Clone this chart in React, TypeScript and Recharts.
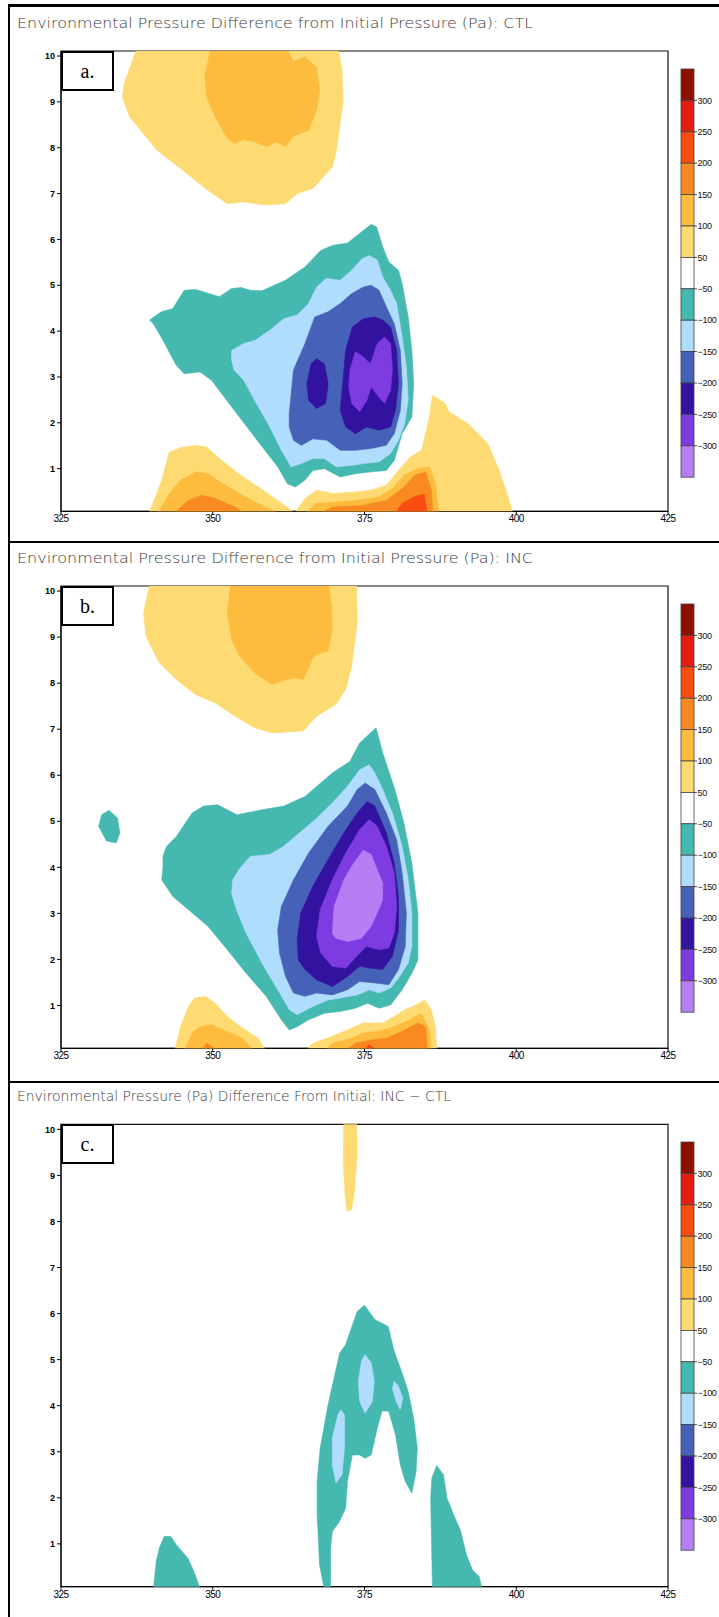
import React from "react";
import { ScatterChart, Scatter, XAxis, YAxis, ReferenceArea } from "recharts";

// colour bar, top box first, and the labels that sit on the box edges
const BAR_COLORS = ["#8e0f00", "#e41e0e", "#f94c10", "#f98a22", "#fdbc3e", "#fddb72", "#ffffff", "#45b8b0", "#b0dcfd", "#4662b8", "#32129f", "#7e3be2", "#b57ef4"];
const BAR_LABELS = ["300", "250", "200", "150", "100", "50", "\u221250", "\u2212100", "\u2212150", "\u2212200", "\u2212250", "\u2212300"];

const X_TICKS = [325, 350, 375, 400, 425];
const Y_TICKS = [1, 2, 3, 4, 5, 6, 7, 8, 9, 10];
const X_DOMAIN = [325, 425];
const Y_DOMAIN = [0.07, 10.11];

const TITLES = [
  "Environmental Pressure Difference from Initial Pressure (Pa): CTL",
  "Environmental Pressure Difference from Initial Pressure (Pa): INC",
  "Environmental Pressure (Pa) Difference From Initial: INC \u2212 CTL",
];
const PANEL_TAGS = ["a.", "b.", "c."];

type Pt = [number, number];

// ---- panel a (CTL) contour outlines, [x, y] ----
const A_YELLOW_TOP: Pt[] = [[337.6, 10.2], [335.4, 9.4], [335.1, 9.11], [336.3, 8.67], [340.8, 7.95], [344.0, 7.62], [349.2, 7.07], [352.4, 6.78], [354.9, 6.82], [358.8, 6.75], [362.0, 6.78], [363.9, 7.0], [366.5, 7.11], [369.7, 7.58], [370.4, 7.95], [371.5, 9.04], [371.3, 9.69], [370.6, 10.2]];
const A_ORANGE_TOP: Pt[] = [[349.7, 10.2], [348.7, 9.55], [349.0, 9.11], [350.4, 8.67], [352.4, 8.2], [353.7, 8.09], [354.9, 8.18], [356.9, 8.13], [358.8, 8.02], [360.4, 8.13], [362.0, 8.03], [363.3, 8.25], [365.8, 8.38], [367.1, 8.82], [367.6, 9.25], [367.1, 9.76], [365.2, 9.98], [363.3, 9.89], [362.0, 10.2]];
const A_TEAL: Pt[] = [[339.6, 4.24], [341.5, 4.42], [343.4, 4.49], [345.3, 4.89], [347.2, 4.91], [351.1, 4.75], [353.1, 4.93], [354.7, 4.95], [356.2, 4.89], [358.1, 4.88], [362.0, 5.11], [365.2, 5.4], [367.8, 5.76], [369.7, 5.87], [372.2, 5.92], [376.1, 6.33], [377.0, 6.27], [378.0, 5.84], [379.0, 5.51], [380.6, 5.33], [381.2, 5.04], [382.2, 4.31], [382.8, 3.58], [383.1, 2.85], [382.8, 2.13], [381.2, 1.76], [379.9, 1.18], [378.6, 0.96], [376.1, 0.93], [373.5, 0.89], [371.0, 0.82], [368.4, 1.0], [366.5, 0.96], [365.2, 0.75], [363.6, 0.6], [362.3, 0.67], [360.7, 1.04], [356.9, 1.69], [353.1, 2.35], [349.8, 2.93], [347.9, 3.11], [345.3, 3.07], [344.0, 3.25], [341.8, 3.8], [340.2, 4.16]];
const A_LIGHTBLUE: Pt[] = [[353.1, 3.58], [355.1, 3.73], [357.0, 3.8], [359.4, 4.02], [361.7, 4.27], [363.9, 4.35], [365.8, 4.6], [367.1, 4.96], [368.7, 5.15], [371.0, 5.11], [372.9, 5.33], [374.6, 5.58], [375.8, 5.65], [377.1, 5.55], [378.0, 5.18], [379.3, 4.89], [380.3, 4.6], [381.2, 3.87], [381.9, 3.22], [382.2, 2.49], [381.6, 1.98], [380.6, 1.62], [379.3, 1.33], [377.4, 1.15], [374.8, 1.11], [372.9, 1.07], [370.3, 1.04], [368.4, 1.22], [366.5, 1.22], [364.6, 1.11], [362.9, 1.04], [361.3, 1.4], [359.4, 1.91], [356.9, 2.49], [355.1, 2.93], [353.5, 3.15], [353.1, 3.36]];
const A_BLUE: Pt[] = [[362.6, 2.2], [363.3, 3.15], [365.2, 3.73], [366.8, 4.31], [369.0, 4.42], [371.0, 4.6], [372.9, 4.82], [374.8, 4.96], [376.1, 5.0], [377.4, 4.89], [378.6, 4.53], [379.9, 4.16], [380.9, 3.58], [381.2, 2.85], [380.9, 2.27], [379.9, 1.76], [378.6, 1.51], [376.1, 1.44], [373.5, 1.4], [371.0, 1.4], [368.8, 1.62], [366.5, 1.65], [364.6, 1.51], [363.3, 1.62], [362.6, 1.91]];
const A_INDIGO_LEFT: Pt[] = [[367.1, 3.4], [368.4, 3.29], [369.0, 2.85], [368.6, 2.42], [367.1, 2.31], [365.8, 2.49], [365.5, 2.85], [366.2, 3.29]];
const A_INDIGO: Pt[] = [[371.3, 2.71], [371.9, 3.58], [373.0, 4.09], [374.8, 4.27], [376.7, 4.31], [378.0, 4.24], [379.3, 4.09], [380.3, 3.58], [380.6, 2.85], [380.1, 2.27], [379.3, 1.91], [377.4, 1.84], [375.3, 1.91], [373.5, 1.76], [371.9, 1.91], [371.0, 2.27]];
const A_PURPLE: Pt[] = [[372.6, 3.15], [373.5, 3.55], [374.5, 3.47], [376.0, 3.29], [377.1, 3.73], [378.3, 3.87], [379.3, 3.73], [379.6, 3.15], [379.3, 2.71], [378.3, 2.42], [377.4, 2.56], [376.1, 2.78], [375.4, 2.49], [374.2, 2.24], [372.9, 2.42], [372.4, 2.78]];
const A_YELLOW_BL: Pt[] = [[339.4, 0], [341.6, 0.75], [342.8, 1.36], [344.7, 1.46], [347.2, 1.51], [349.0, 1.47], [351.1, 1.22], [354.3, 0.89], [357.5, 0.6], [360.7, 0.31], [363.9, 0]];
const A_ORANGE_BL: Pt[] = [[340.8, 0], [342.8, 0.45], [344.7, 0.75], [347.2, 0.93], [349.2, 0.89], [351.7, 0.67], [354.9, 0.42], [358.8, 0.16], [361.3, 0]];
const A_DKORANGE_BL: Pt[] = [[343.4, 0], [346.0, 0.31], [348.2, 0.42], [350.4, 0.35], [353.7, 0.16], [355.6, 0]];
const A_YELLOW_BR: Pt[] = [[363.3, 0], [365.2, 0.35], [367.1, 0.53], [369.7, 0.46], [373.5, 0.49], [376.1, 0.53], [378.6, 0.64], [380.6, 0.96], [382.5, 1.25], [384.4, 1.4], [385.7, 2.13], [386.2, 2.6], [388.3, 2.42], [388.9, 2.24], [392.1, 1.98], [395.3, 1.55], [397.2, 0.96], [398.5, 0.45], [399.5, 0]];
const A_ORANGE_BR: Pt[] = [[365.2, 0], [366.8, 0.24], [369.7, 0.27], [373.5, 0.31], [377.4, 0.38], [379.9, 0.6], [381.5, 0.86], [383.8, 1.0], [385.7, 1.04], [386.7, 0.67], [387.3, 0]];
const A_DKORANGE_BR: Pt[] = [[367.1, 0], [369.7, 0.16], [374.8, 0.2], [378.6, 0.31], [381.2, 0.56], [383.3, 0.86], [385.1, 0.93], [386.0, 0.53], [386.3, 0]];
const A_RED_BR: Pt[] = [[379.9, 0], [381.2, 0.24], [383.1, 0.38], [384.8, 0.45], [385.4, 0]];

// ---- panel b (INC) ----
const B_YELLOW_TOP: Pt[] = [[339.7, 10.2], [338.6, 9.53], [339.0, 9.02], [341.2, 8.44], [344.0, 8.08], [347.2, 7.75], [350.4, 7.57], [353.7, 7.28], [356.9, 7.03], [359.8, 6.92], [364.9, 6.96], [367.1, 7.28], [370.3, 7.54], [371.9, 7.86], [372.9, 8.37], [373.8, 9.31], [373.7, 10.2]];
const B_ORANGE_TOP: Pt[] = [[353.0, 10.2], [352.4, 9.53], [353.1, 8.95], [354.4, 8.59], [356.9, 8.22], [359.8, 7.97], [361.3, 8.04], [363.3, 8.12], [364.9, 8.08], [366.5, 8.55], [367.1, 8.62], [369.0, 8.7], [369.7, 9.17], [369.6, 9.67], [369.0, 10.2]];
const B_TEAL_DOT: Pt[] = [[332.9, 5.24], [334.3, 5.07], [334.7, 4.75], [334.1, 4.53], [332.5, 4.57], [331.2, 4.89], [331.7, 5.14]];
const B_TEAL: Pt[] = [[341.8, 4.24], [342.4, 4.46], [344.0, 4.67], [346.6, 5.18], [348.5, 5.33], [350.8, 5.36], [354.0, 5.14], [358.1, 5.25], [361.7, 5.33], [365.2, 5.54], [369.7, 6.05], [372.6, 6.3], [374.2, 6.7], [376.9, 7.03], [378.0, 6.49], [380.0, 5.69], [381.5, 4.96], [382.8, 4.09], [383.8, 3.01], [383.8, 1.99], [382.8, 1.7], [381.2, 1.34], [379.3, 1.01], [377.4, 0.94], [375.5, 1.05], [373.5, 0.94], [371.0, 0.87], [368.4, 0.83], [365.8, 0.69], [363.9, 0.54], [362.6, 0.47], [361.3, 0.69], [358.8, 1.2], [355.5, 1.7], [352.4, 2.21], [349.2, 2.72], [346.0, 3.08], [343.4, 3.37], [341.6, 3.73], [341.8, 4.02]];
const B_LIGHTBLUE: Pt[] = [[353.3, 3.73], [354.3, 3.95], [356.2, 4.24], [359.4, 4.28], [361.7, 4.46], [364.3, 4.75], [366.9, 5.04], [369.7, 5.4], [372.2, 5.76], [374.2, 6.12], [375.8, 6.23], [376.7, 6.05], [378.0, 5.69], [379.6, 5.18], [381.2, 4.46], [382.2, 3.73], [382.8, 3.01], [382.8, 2.28], [382.2, 1.92], [380.6, 1.59], [379.3, 1.38], [377.4, 1.27], [375.8, 1.34], [373.8, 1.23], [371.0, 1.16], [369.0, 1.12], [366.5, 0.98], [363.9, 0.8], [362.6, 0.91], [360.7, 1.34], [358.1, 1.92], [355.5, 2.57], [353.9, 3.08], [353.1, 3.44]];
const B_BLUE: Pt[] = [[360.7, 2.64], [361.3, 3.15], [363.3, 3.73], [365.8, 4.31], [369.0, 4.89], [372.2, 5.33], [373.8, 5.69], [375.1, 5.83], [376.7, 5.69], [378.6, 5.18], [380.3, 4.6], [381.2, 3.88], [381.9, 3.01], [381.7, 2.28], [380.6, 1.78], [379.0, 1.45], [376.7, 1.49], [374.2, 1.52], [372.2, 1.34], [369.7, 1.23], [367.1, 1.27], [365.2, 1.2], [363.3, 1.27], [362.0, 1.63], [361.0, 2.14]];
const B_INDIGO: Pt[] = [[363.9, 2.43], [364.5, 3.01], [366.5, 3.59], [369.0, 4.17], [371.6, 4.75], [373.8, 5.18], [375.4, 5.43], [376.7, 5.33], [378.6, 4.75], [379.9, 4.09], [380.6, 3.37], [380.6, 2.64], [379.6, 2.07], [378.0, 1.78], [376.1, 1.81], [374.2, 1.85], [372.2, 1.63], [369.7, 1.41], [367.1, 1.56], [365.2, 1.78], [364.1, 1.99]];
const B_PURPLE: Pt[] = [[367.1, 2.5], [367.7, 3.08], [369.7, 3.73], [371.9, 4.31], [374.2, 4.82], [375.8, 5.04], [377.1, 4.89], [378.6, 4.46], [379.9, 3.88], [380.3, 3.15], [379.9, 2.57], [379.0, 2.25], [377.4, 2.21], [375.3, 2.28], [373.7, 2.07], [371.9, 1.81], [369.7, 1.85], [367.8, 2.14]];
const B_LILAC: Pt[] = [[369.7, 2.57], [370.0, 3.15], [371.6, 3.73], [373.2, 4.09], [374.8, 4.37], [376.1, 4.28], [377.1, 3.95], [378.0, 3.66], [378.0, 3.3], [377.1, 3.01], [376.1, 2.72], [374.5, 2.46], [372.2, 2.39], [370.3, 2.46]];
const B_YELLOW_BL: Pt[] = [[343.7, 0], [344.7, 0.54], [346.0, 0.98], [347.0, 1.16], [348.8, 1.2], [350.4, 1.05], [352.4, 0.76], [354.9, 0.51], [357.5, 0.29], [358.8, 0]];
const B_ORANGE_BL: Pt[] = [[345.3, 0], [346.6, 0.4], [347.9, 0.54], [349.8, 0.58], [351.7, 0.47], [354.9, 0.29], [356.9, 0]];
const B_DKORANGE_BL: Pt[] = [[347.9, 0], [349.0, 0.18], [351.1, 0]];
const B_YELLOW_BR: Pt[] = [[365.2, 0], [366.5, 0.18], [369.7, 0.33], [372.9, 0.51], [374.8, 0.62], [378.0, 0.62], [379.9, 0.76], [381.7, 0.91], [383.0, 0.98], [384.9, 1.12], [386.0, 0.91], [386.7, 0.54], [386.9, 0]];
const B_ORANGE_BR: Pt[] = [[368.4, 0], [369.7, 0.18], [372.9, 0.29], [374.8, 0.4], [377.4, 0.44], [379.9, 0.54], [382.5, 0.69], [384.4, 0.83], [385.7, 0.47], [386.0, 0]];
const B_DKORANGE_BR: Pt[] = [[371.6, 0], [373.5, 0.18], [376.1, 0.25], [378.6, 0.29], [381.2, 0.44], [383.8, 0.62], [385.1, 0.54], [385.4, 0]];
const B_RED_BR: Pt[] = [[374.6, 0], [375.8, 0.15], [377.3, 0]];

// ---- panel c (INC - CTL) ----
const C_YELLOW: Pt[] = [[371.6, 10.2], [371.5, 9.24], [371.8, 8.59], [372.1, 8.22], [372.9, 8.26], [373.4, 8.73], [373.8, 9.46], [373.7, 10.2]];
const C_TEAL_LEFT: Pt[] = [[340.2, 0], [340.7, 0.62], [341.2, 0.91], [342.0, 1.16], [343.1, 1.16], [344.0, 0.98], [345.9, 0.69], [346.9, 0.4], [348.0, 0]];
const C_TEAL_ARCH: Pt[] = [[368.4, 0], [367.6, 0.54], [367.2, 1.63], [367.2, 2.36], [367.7, 3.08], [369.0, 4.02], [370.9, 5.14], [371.9, 5.33], [373.8, 6.05], [375.0, 6.18], [376.7, 5.87], [378.9, 5.72], [379.9, 5.18], [380.9, 4.82], [382.2, 4.31], [383.1, 3.73], [383.7, 3.08], [383.5, 2.57], [382.8, 2.1], [381.7, 2.36], [380.9, 2.72], [380.1, 3.37], [379.0, 3.88], [377.9, 3.89], [377.1, 3.51], [376.1, 2.93], [375.1, 2.86], [374.2, 2.93], [373.0, 2.93], [372.2, 2.36], [371.9, 1.78], [370.9, 1.49], [369.7, 1.27], [369.4, 0.91], [369.4, 0]];
const C_TEAL_RIGHT: Pt[] = [[386.2, 0], [385.9, 1.99], [386.1, 2.43], [386.9, 2.7], [388.0, 2.5], [388.6, 1.99], [389.9, 1.56], [390.8, 1.3], [391.8, 0.76], [392.8, 0.43], [393.9, 0.29], [394.4, 0]];
const C_LIGHTBLUE_1: Pt[] = [[370.3, 2.32], [369.7, 2.71], [369.7, 3.3], [370.6, 3.8], [371.1, 3.91], [371.7, 3.8], [371.7, 3.08], [371.3, 2.5]];
const C_LIGHTBLUE_2: Pt[] = [[375.1, 5.11], [376.1, 4.93], [376.6, 4.53], [376.3, 4.09], [375.1, 3.84], [374.2, 4.09], [374.0, 4.53], [374.5, 4.97]];
const C_LIGHTBLUE_3: Pt[] = [[379.9, 4.53], [380.6, 4.42], [381.3, 4.17], [380.9, 3.91], [380.2, 4.09], [379.6, 4.38]];

const YEL = BAR_COLORS[5];
const ORA = BAR_COLORS[4];
const DKO = BAR_COLORS[3];
const RED = BAR_COLORS[2];
const TEAL = BAR_COLORS[7];
const LBLUE = BAR_COLORS[8];
const BLUE = BAR_COLORS[9];
const INDIGO = BAR_COLORS[10];
const PURPLE = BAR_COLORS[11];
const LILAC = BAR_COLORS[12];

type Layer = { pts: Pt[]; color: string };

const PANELS: {
  top: number;
  height: number;
  plotTop: number;
  plotBottom: number;
  titleY: number;
  titleLen: number;
  layers: Layer[];
}[] = [
  {
    top: 0, height: 540, plotTop: 51, plotBottom: 511.3, titleY: 28, titleLen: 516,
    layers: [
      { pts: A_YELLOW_TOP, color: YEL }, { pts: A_ORANGE_TOP, color: ORA },
      { pts: A_TEAL, color: TEAL }, { pts: A_LIGHTBLUE, color: LBLUE }, { pts: A_BLUE, color: BLUE },
      { pts: A_INDIGO_LEFT, color: INDIGO }, { pts: A_INDIGO, color: INDIGO }, { pts: A_PURPLE, color: PURPLE },
      { pts: A_YELLOW_BL, color: YEL }, { pts: A_ORANGE_BL, color: ORA }, { pts: A_DKORANGE_BL, color: DKO },
      { pts: A_YELLOW_BR, color: YEL }, { pts: A_ORANGE_BR, color: ORA }, { pts: A_DKORANGE_BR, color: DKO }, { pts: A_RED_BR, color: RED },
    ],
  },
  {
    top: 540, height: 540, plotTop: 586, plotBottom: 1048.3, titleY: 563.3, titleLen: 516,
    layers: [
      { pts: B_YELLOW_TOP, color: YEL }, { pts: B_ORANGE_TOP, color: ORA },
      { pts: B_TEAL_DOT, color: TEAL }, { pts: B_TEAL, color: TEAL }, { pts: B_LIGHTBLUE, color: LBLUE }, { pts: B_BLUE, color: BLUE },
      { pts: B_INDIGO, color: INDIGO }, { pts: B_PURPLE, color: PURPLE }, { pts: B_LILAC, color: LILAC },
      { pts: B_YELLOW_BL, color: YEL }, { pts: B_ORANGE_BL, color: ORA }, { pts: B_DKORANGE_BL, color: DKO },
      { pts: B_YELLOW_BR, color: YEL }, { pts: B_ORANGE_BR, color: ORA }, { pts: B_DKORANGE_BR, color: DKO }, { pts: B_RED_BR, color: RED },
    ],
  },
  {
    top: 1080, height: 537, plotTop: 1124.3, plotBottom: 1586.7, titleY: 1100.7, titleLen: 434,
    layers: [
      { pts: C_YELLOW, color: YEL }, { pts: C_TEAL_LEFT, color: TEAL }, { pts: C_TEAL_ARCH, color: TEAL }, { pts: C_TEAL_RIGHT, color: TEAL },
      { pts: C_LIGHTBLUE_1, color: LBLUE }, { pts: C_LIGHTBLUE_2, color: LBLUE }, { pts: C_LIGHTBLUE_3, color: LBLUE },
    ],
  },
];

const X_AXIS_H = 24;
const Y_AXIS_W = 61;
const RIGHT_GAP = 51;
const BAR_BOX_H = 31.4;

const fillPolygon = (color: string) => (p: any) => {
  const pts: { x: number; y: number }[] = p.points || [];
  if (!pts.length) return <g />;
  const d = pts.map((q, i) => `${i ? "L" : "M"}${q.x},${q.y}`).join("") + "Z";
  return <path d={d} fill={color} stroke={color} strokeWidth={0.6} />;
};

const NoDot = () => <g />;

// colour bar sits right of each plot; labels are kept narrow so they fit the page edge
const ColorBar = ({ top }: { top: number }) => (
  <svg style={{ position: "absolute", left: 676, top: top - 6 }} width={43} height={BAR_BOX_H * 13 + 12}>
    {BAR_COLORS.map((c, i) => (
      <rect key={c} x={5} y={6 + i * BAR_BOX_H} width={13} height={BAR_BOX_H} fill={c} stroke='#444' strokeWidth={0.8} />
    ))}
    {BAR_LABELS.map((t, i) => (
      <g key={t}>
        <line x1={18} x2={21} y1={6 + (i + 1) * BAR_BOX_H} y2={6 + (i + 1) * BAR_BOX_H} stroke='#222' strokeWidth={0.8} />
        <text
          x={21.5}
          y={6 + (i + 1) * BAR_BOX_H}
          dy='0.35em'
          fontSize={9}
          letterSpacing={-0.3}
          fontFamily='Liberation Sans, Arial, sans-serif'
          fill='#111'>
          {t}
        </text>
      </g>
    ))}
  </svg>
);

const Panel = ({ idx }: { idx: number }) => {
  const p = PANELS[idx];
  const marginTop = p.plotTop - p.top;
  const marginBottom = p.height - (p.plotBottom - p.top) - X_AXIS_H;
  return (
    <>
      <div style={{ position: "absolute", left: 0, top: p.top, width: 719, height: p.height }}>
        <ScatterChart width={719} height={p.height} margin={{ top: marginTop, right: RIGHT_GAP, bottom: marginBottom, left: 0 }}>
          <XAxis
            type='number'
            dataKey='x'
            domain={X_DOMAIN}
            ticks={X_TICKS}
            interval={0}
            allowDataOverflow
            height={X_AXIS_H}
            tickSize={3}
            tickMargin={1}
            stroke='#000'
            tick={{ fontSize: 10, fill: "#000", fontFamily: "Liberation Sans, Arial, sans-serif", letterSpacing: -0.6 }}
          />
          <YAxis
            type='number'
            dataKey='y'
            domain={Y_DOMAIN}
            ticks={Y_TICKS}
            interval={0}
            allowDataOverflow
            width={Y_AXIS_W}
            tickSize={4}
            tickMargin={2}
            stroke='#000'
            tick={{ fontSize: 9, fill: "#000", fontWeight: "bold", fontFamily: "Liberation Sans, Arial, sans-serif" }}
          />
          {p.layers.map((l, i) => (
            <Scatter
              key={i}
              data={l.pts.map(([x, y]) => ({ x, y }))}
              fill={l.color}
              shape={NoDot}
              line={fillPolygon(l.color)}
              legendType='none'
              isAnimationActive={false}
            />
          ))}
          <ReferenceArea
            x1={X_DOMAIN[0]}
            x2={X_DOMAIN[1]}
            y1={Y_DOMAIN[0]}
            y2={Y_DOMAIN[1]}
            fill='none'
            fillOpacity={0}
            stroke='#111'
            strokeWidth={1.2}
            ifOverflow='visible'
          />
        </ScatterChart>
      </div>
      <svg style={{ position: "absolute", left: 0, top: 0, overflow: "visible", pointerEvents: "none" }} width={719} height={1}>
        <text
          x={17}
          y={p.titleY}
          fontSize={13.5}
          textLength={p.titleLen}
          lengthAdjust='spacingAndGlyphs'
          fill='#3a3a3a'
          fontFamily='DejaVu Sans, Noto Sans, sans-serif'
          fontWeight={300}>
          {TITLES[idx]}
        </text>
      </svg>
      <div
        style={{
          position: "absolute",
          left: 61,
          top: p.plotTop,
          width: 53,
          height: 40,
          border: "2px solid #000",
          boxSizing: "border-box",
          background: "#fff",
          fontFamily: "Liberation Serif, Times New Roman, serif",
          fontSize: 20,
          lineHeight: "36px",
          textAlign: "center",
        }}>
        {PANEL_TAGS[idx]}
      </div>
      <ColorBar top={p.plotTop + 18} />
    </>
  );
};

const App: React.FC = () => {
  return (
    <div style={{ position: "absolute", left: 0, top: 0, width: 719, height: 1617, overflow: "hidden", background: "#fff" }}>
      <Panel idx={0} />
      <Panel idx={1} />
      <Panel idx={2} />
      {/* frame lines of the figure table */}
      <div style={{ position: "absolute", left: 7.5, top: 4, width: 712, height: 2.5, background: "#000" }} />
      <div style={{ position: "absolute", left: 7.5, top: 4, width: 2, height: 1613, background: "#000" }} />
      <div style={{ position: "absolute", left: 7.5, top: 540.7, width: 712, height: 2.5, background: "#000" }} />
      <div style={{ position: "absolute", left: 7.5, top: 1080.7, width: 712, height: 2.5, background: "#000" }} />
    </div>
  );
};

export default App;
